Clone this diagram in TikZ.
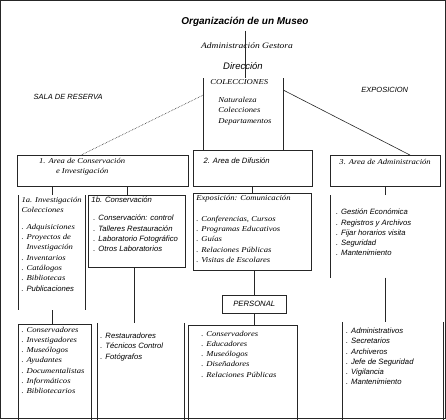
\documentclass[tikz,border=0pt]{standalone}
\usepackage{fontspec}
\setmainfont{Liberation Serif}
\newfontfamily\arialfont{Liberation Sans}
\newfontfamily\widerm[FakeStretch=1.15]{Liberation Serif}
\newcommand{\sitem}{\arialfont\itshape\fontsize{7.7}{10.2}\selectfont}
\newcommand{\ritem}{\widerm\itshape\fontsize{7.5}{10.2}\selectfont}

\begin{document}
\begin{tikzpicture}[x=1pt,y=-1pt,
    every path/.style={line width=0.6pt, draw=black!85},
    box/.style={draw, anchor=north west, inner sep=0pt},
    openbox/.style={anchor=north west, inner sep=0pt},
    stxt/.style={anchor=north west, inner sep=0pt, align=left, font=\sitem},
    rtxt/.style={anchor=north west, inner sep=0pt, align=left, font=\ritem}]
    \useasboundingbox (0,0) rectangle (446,419);

    % Nodes
    \node[font=\arialfont\bfseries\itshape\fontsize{10}{12}\selectfont] (title) at (245,22) {Organización de un Museo};
    \node[font=\widerm\itshape\fontsize{8.3}{10}\selectfont] (gestora) at (247,45) {Administración Gestora};
    \node[font=\arialfont\itshape\fontsize{9.5}{11}\selectfont] (dir) at (243,66) {Dirección};

    \node[openbox, minimum width=80, minimum height=72] (cent) at (203,78) {};
    \node[rtxt, font=\widerm\itshape\fontsize{7.5}{9}\selectfont, anchor=west] (colec) at (210,82) {COLECCIONES};
    \node[rtxt] (deptos) at (218,97) {Naturaleza\\Colecciones\\Departamentos};

    \node[font=\arialfont\itshape\fontsize{7.5}{9}\selectfont] (reserva) at (68,97) {SALA DE RESERVA};
    \node[font=\arialfont\itshape\fontsize{7.5}{9}\selectfont] (expo) at (385,90) {EXPOSICION};

    \node[box, minimum width=171, minimum height=31] (area1) at (17,155) {};
    \node[font=\ritem, align=center] (t1) at (82,167) {1. Area de Conservación\\e Investigación};
    \node[box, minimum width=119, minimum height=36] (area2) at (193,150) {};
    \node[font=\sitem, anchor=west] (t2) at (200,161) {2. Area de Difusión};
    \node[box, minimum width=110, minimum height=31] (area3) at (330,155) {};
    \node[font=\ritem, anchor=west] (t3) at (336,162) {3. Area de Administración};

    \node[openbox, minimum width=67, minimum height=115] (sub1a) at (18,195) {};
    \node[rtxt] (t1a) at (21,197) {1a. Investigación\\Colecciones};
    \node[rtxt] (l1a) at (21,224) {. Adquisiciones\\. Proyectos de\\\hspace{5pt}Investigación\\. Inventarios\\. Catálogos\\. Bibliotecas};
    \node[stxt] (pub) at (21,286) {. Publicaciones};

    \node[box, minimum width=97, minimum height=72] (sub1b) at (88,195) {};
    \node[stxt] (t1b) at (91,197) {1b. Conservación};
    \node[stxt] (l1b) at (93,215) {. Conservación: control\\. Talleres Restauración\\. Laboratorio Fotográfico\\. Otros Laboratorios};

    \node[box, minimum width=118, minimum height=77] (sub2) at (193,193) {};
    \node[rtxt] (t2a) at (196,195) {Exposición: Comunicación};
    \node[rtxt] (l2a) at (196,216) {. Conferencias, Cursos\\. Programas Educativos\\. Guías\\. Relaciones Públicas\\. Visitas de Escolares};

    \node[box, minimum width=64, minimum height=18, font=\sitem] (pers) at (222,295) {PERSONAL};

    \node[openbox, minimum width=110, minimum height=82] (sub3) at (330,195) {};
    \node[stxt] (l3) at (336,209) {. Gestión Económica\\. Registros y Archivos\\. Fijar horarios visita\\. Seguridad\\. Mantenimiento};

    \node[box, minimum width=73, minimum height=110] (pers1) at (18,324) {};
    \node[rtxt] (lp1) at (21,327) {. Conservadores\\. Investigadores\\. Museólogos\\. Ayudantes\\. Documentalistas\\. Informáticos\\. Bibliotecarios};
    \node[openbox, minimum width=87, minimum height=110] (pers2) at (97,323) {};
    \node[stxt] (lp2) at (100,333) {. Restauradores\\. Técnicos Control\\. Fotógrafos};
    \node[box, minimum width=109, minimum height=110] (pers3) at (188,325) {};
    \node[rtxt] (lp3) at (201,331) {. Conservadores\\. Educadores\\. Museólogos\\. Diseñadores\\. Relaciones Públicas};
    \node[openbox, minimum width=101, minimum height=110] (pers4) at (342,322) {};
    \node[stxt] (lp4) at (346,328) {. Administrativos\\. Secretarios\\. Archiveros\\. Jefe de Seguridad\\. Vigilancia\\. Mantenimiento};

    % Sides of the open boxes
    \draw (cent.north west) -- (cent.south west) (cent.north east) -- (cent.south east);
    \draw (sub1a.north west) -- (sub1a.south west) (sub1a.north east) -- (sub1a.south east);
    \draw (sub3.north west) -- (sub3.south west);
    \draw (pers2.north west) -- (pers2.south west) (pers2.north east) -- (pers2.south east);
    \draw (pers4.north west) -- (pers4.south west) (pers4.north east) -- (pers4.south east);

    % Lines
    \draw (title.south) -- (title.south |- cent.north);
    \draw[densely dotted] ([yshift=-17pt]cent.north west) -- ([xshift=-22pt]area1.north);
    \draw ([yshift=-12pt]cent.north east) -- ([xshift=25pt]area3.north);
    \draw (sub1a.north) -- (sub1a.north |- area1.south);
    \draw ([xshift=-10pt]sub1b.north) -- ([xshift=-10pt]sub1b.north |- area1.south);
    \draw (sub2.north) -- (sub2.north |- area2.south);
    \draw (sub3.north) -- (sub3.north |- area3.south);
    \draw (sub1a.south) -- (sub1a.south |- pers1.north);
    \draw ([xshift=-3pt]sub1b.south) -- ([xshift=-3pt]sub1b.south |- pers2.north);
    \draw (pers.north |- sub2.south) -- (pers.north);
    \draw (pers.south) -- (pers.south |- pers3.north);
    \draw (sub3.south) -- (sub3.south |- pers4.north);

\end{tikzpicture}
\end{document}
